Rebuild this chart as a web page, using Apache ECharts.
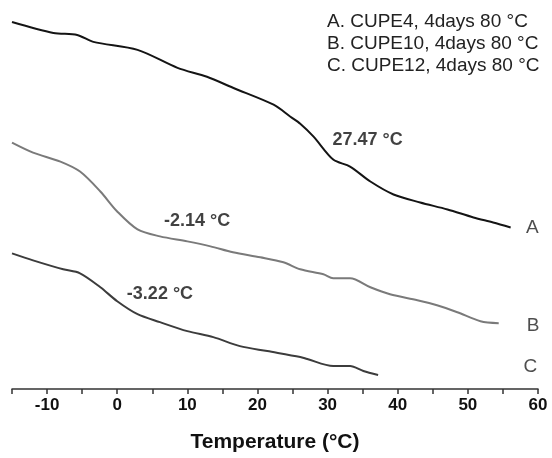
<!DOCTYPE html>
<html>
<head>
<meta charset="utf-8">
<script src="https://cdn.jsdelivr.net/npm/echarts@6/dist/echarts.min.js"></script>
<style>
html,body{margin:0;padding:0;background:#fff;}
#chart{width:552px;height:458px;}
</style>
</head>
<body>
<div id="chart"></div>
<script>
// Temperature (°C) and relative heat-flow (arbitrary units, offset curves)
var tempA = [-15, -9.1, -5.7, -3.4, 2.9, 8.6, 12.8, 16.5, 22.3, 24.7, 26.1, 28.0, 30.8, 33.2, 36.1, 39.4, 43.2, 47.1, 50.8, 53.6, 56.1];
var flowA = [368, 357, 355, 348, 340, 322, 313, 302, 285, 273, 266, 253, 230, 223, 208, 195, 187, 180, 172, 167, 162];

var tempB = [-15, -12.0, -8.1, -5.3, -2.4, 0, 2.9, 6.1, 10.0, 13.3, 16.5, 20.4, 23.7, 26.1, 29.4, 30.8, 33.2, 36.1, 38.9, 42.8, 45.6, 48.5, 51.8, 54.4];
var flowB = [247, 237, 228, 218, 198, 178, 160, 153, 148, 143, 137, 132, 127, 120, 115, 111, 111, 102, 95, 89, 84, 77, 68, 66];

var tempC = [-15, -12.0, -7.7, -5.3, -2.4, 0, 2.9, 6.1, 10.0, 13.7, 17.5, 21.4, 26.1, 27.1, 30.8, 33.2, 35.1, 37.2];
var flowC = [136, 129, 120, 116, 102, 88, 75, 67, 58, 52, 43, 38, 32, 30, 23, 23, 18, 14];

var legendLines = ['A. CUPE4, 4days 80 °C', 'B. CUPE10, 4days 80 °C', 'C. CUPE12, 4days 80 °C'];

var tgLabels = ['27.47 °C', '-2.14 °C', '-3.22 °C'];
var tgTemp = [35.7, 11.4, 6.1];
var tgFlow = [250, 168, 95];

var curveNames = ['A', 'B', 'C'];
var curveNameTemp = [59.2, 59.3, 58.9];
var curveNameFlow = [162, 63, 22];

var xAxisTitle = 'Temperature (°C)';

function zip(xs, ys) { return xs.map(function (x, i) { return [x, ys[i]]; }); }

var chart = echarts.init(document.getElementById('chart'), null, {renderer: 'canvas'});
var FONT = 'Liberation Sans, Arial, sans-serif';

chart.setOption({
  backgroundColor: '#ffffff',
  animation: false,
  title: {
    text: legendLines.join('\n'),
    left: 322,
    top: 6,
    textStyle: {fontFamily: FONT, fontSize: 19, fontWeight: 'normal', color: '#222', lineHeight: 22}
  },
  grid: {left: 12, right: 14, top: 0, bottom: 68, containLabel: false},
  xAxis: {
    type: 'value',
    min: -15,
    max: 60,
    interval: 5,
    name: xAxisTitle,
    nameLocation: 'middle',
    nameGap: 43,
    nameTextStyle: {fontFamily: FONT, fontSize: 21, fontWeight: 'bold', color: '#111'},
    axisLine: {show: true, onZero: false, lineStyle: {color: '#333', width: 1.5}},
    axisTick: {show: true, length: 5, lineStyle: {color: '#333', width: 1.5}},
    splitLine: {show: false},
    axisLabel: {
      margin: 8,
      fontFamily: FONT, fontSize: 17, fontWeight: 'bold', color: '#111',
      showMinLabel: true, showMaxLabel: true,
      formatter: function (v) { return (Math.round(v) % 10 === 0) ? String(v) : ''; }
    }
  },
  yAxis: {type: 'value', min: 0, max: 390, show: false, splitLine: {show: false}},
  series: [
    {type: 'line', data: zip(tempA, flowA), showSymbol: false, smooth: 0.3,
     lineStyle: {color: '#141414', width: 2}},
    {type: 'line', data: zip(tempB, flowB), showSymbol: false, smooth: 0.3,
     lineStyle: {color: '#7a7a7a', width: 2}},
    {type: 'line', data: zip(tempC, flowC), showSymbol: false, smooth: 0.3,
     lineStyle: {color: '#3c3c3c', width: 2}},
    {type: 'scatter', symbolSize: 0, silent: true,
     data: tgLabels.map(function (t, i) { return {name: t, value: [tgTemp[i], tgFlow[i]]}; }),
     label: {show: true, position: 'inside', formatter: '{b}',
             fontFamily: FONT, fontSize: 18, fontWeight: 'bold', color: '#111'}},
    {type: 'scatter', symbolSize: 0, silent: true,
     data: curveNames.map(function (t, i) { return {name: t, value: [curveNameTemp[i], curveNameFlow[i]]}; }),
     label: {show: true, position: 'inside', formatter: '{b}',
             fontFamily: FONT, fontSize: 19, fontWeight: 'normal', color: '#222'}}
  ]
});
</script>
</body>
</html>
